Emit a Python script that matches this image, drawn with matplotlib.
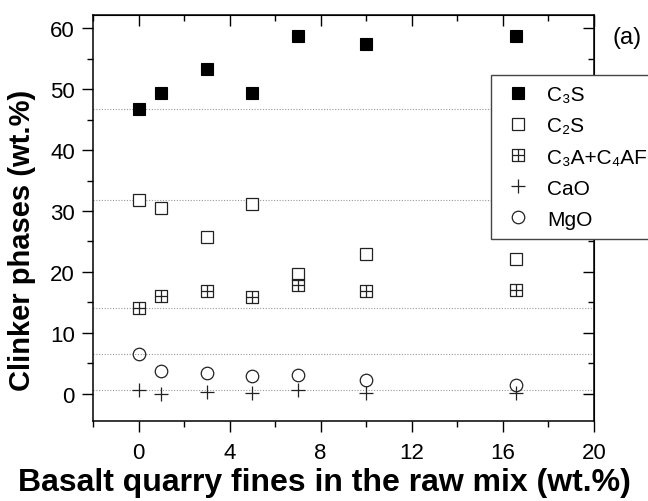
import matplotlib
matplotlib.use("Agg")
import matplotlib.pyplot as plt
from matplotlib.path import Path

plt.rcParams['font.family'] = ['Liberation Sans', 'DejaVu Sans']

# basalt quarry fines in raw mix (wt.%)
fines = [0, 1, 3, 5, 7, 10, 16.6]

c3s = [46.8, 49.3, 53.3, 49.3, 58.7, 57.4, 58.7]
c2s = [31.8, 30.5, 25.7, 31.2, 19.7, 23.0, 22.2]
c3a_c4af = [14.1, 16.1, 16.9, 15.9, 17.9, 16.9, 17.0]
cao = [0.6, 0.0, 0.3, 0.1, 0.6, 0.1, 0.2]
mgo = [6.5, 3.7, 3.5, 3.0, 3.1, 2.2, 1.4]

labels = ['C\u2083S', 'C\u2082S', 'C\u2083A+C\u2084AF', 'CaO', 'MgO']

# square with a cross inside
box_cross = Path(
    [(-1, -1), (1, -1), (1, 1), (-1, 1), (-1, -1),
     (0, -1), (0, 1), (-1, 0), (1, 0)],
    [Path.MOVETO, Path.LINETO, Path.LINETO, Path.LINETO, Path.CLOSEPOLY,
     Path.MOVETO, Path.LINETO, Path.MOVETO, Path.LINETO])

fig = plt.figure(figsize=(6.48, 5.02), dpi=100)
ax = fig.add_axes([0.1435, 0.16, 0.773, 0.8087])

series = [c3s, c2s, c3a_c4af, cao, mgo]
# dotted reference lines at the 0 wt.% values
for s in series:
    ax.axhline(s[0], color='#999999', ls=(0, (1, 1.5)), lw=0.8, zorder=1)

ax.plot(fines, c3s, ls='none', marker='s', ms=8, mfc='black', mec='black',
        mew=0.8, label=labels[0], zorder=3)
ax.plot(fines, c2s, ls='none', marker='s', ms=8, mfc='white', mec='#222222',
        mew=0.9, label=labels[1], zorder=3)
ax.plot(fines, c3a_c4af, ls='none', marker=box_cross, ms=8, mfc='none',
        mec='#222222', mew=0.9, label=labels[2], zorder=3)
ax.plot(fines, cao, ls='none', marker='+', ms=10, mec='#222222',
        mew=0.9, label=labels[3], zorder=3)
ax.plot(fines, mgo, ls='none', marker='o', ms=9, mfc='none', mec='#222222',
        mew=0.9, label=labels[4], zorder=3)

ax.set_xlim(-2, 20)
ax.set_ylim(-4.4, 62.2)
ax.set_xticks([0, 4, 8, 12, 16, 20])
ax.set_xticks(range(-2, 21, 2), minor=True)
ax.set_yticks(range(0, 61, 10))
ax.set_yticks(range(0, 61, 5), minor=True)
ax.tick_params(which='major', direction='out', length=8, width=1,
               labelsize=16, pad=5)
ax.tick_params(axis='x', which='major', pad=7)
ax.tick_params(which='minor', direction='out', length=4, width=1)
for sp in ax.spines.values():
    sp.set_linewidth(1.1)

top = ax.secondary_xaxis('top')
top.set_xticks([0, 4, 8, 12, 16, 20])
top.set_xticks(range(-2, 21, 2), minor=True)
top.tick_params(which='major', direction='in', length=8, width=1, labeltop=False)
top.tick_params(which='minor', direction='in', length=4, width=1)
right = ax.secondary_yaxis('right')
right.set_yticks(range(0, 61, 10))
right.set_yticks(range(0, 61, 5), minor=True)
right.tick_params(which='major', direction='in', length=8, width=1, labelright=False)
right.tick_params(which='minor', direction='in', length=4, width=1)

ax.set_xlabel('Basalt quarry fines in the raw mix (wt.%)', fontsize=23,
              fontweight='bold')
ax.xaxis.set_label_coords(0.463, -0.151)
ax.xaxis.label.set_va('center')
ax.set_ylabel('Clinker phases (wt.%)', fontsize=21, fontweight='bold')
ax.yaxis.set_label_coords(-0.142, 0.4475)
ax.yaxis.label.set_va('center')

leg = ax.legend(loc='upper left', bbox_to_anchor=(491 / 648, 1 - 76 / 502),
                bbox_transform=fig.transFigure, fontsize=15, frameon=True,
                fancybox=False, framealpha=1, edgecolor='#444444',
                handletextpad=0.6, labelspacing=0.58, borderpad=0.5,
                handlelength=1.6, borderaxespad=0)
leg.get_frame().set_linewidth(1)
leg.set_zorder(5)

fig.text(612 / 648, 1 - 38 / 502, '(a)', fontsize=17, va='center', ha='left')

fig.savefig('out.png', dpi=100)
